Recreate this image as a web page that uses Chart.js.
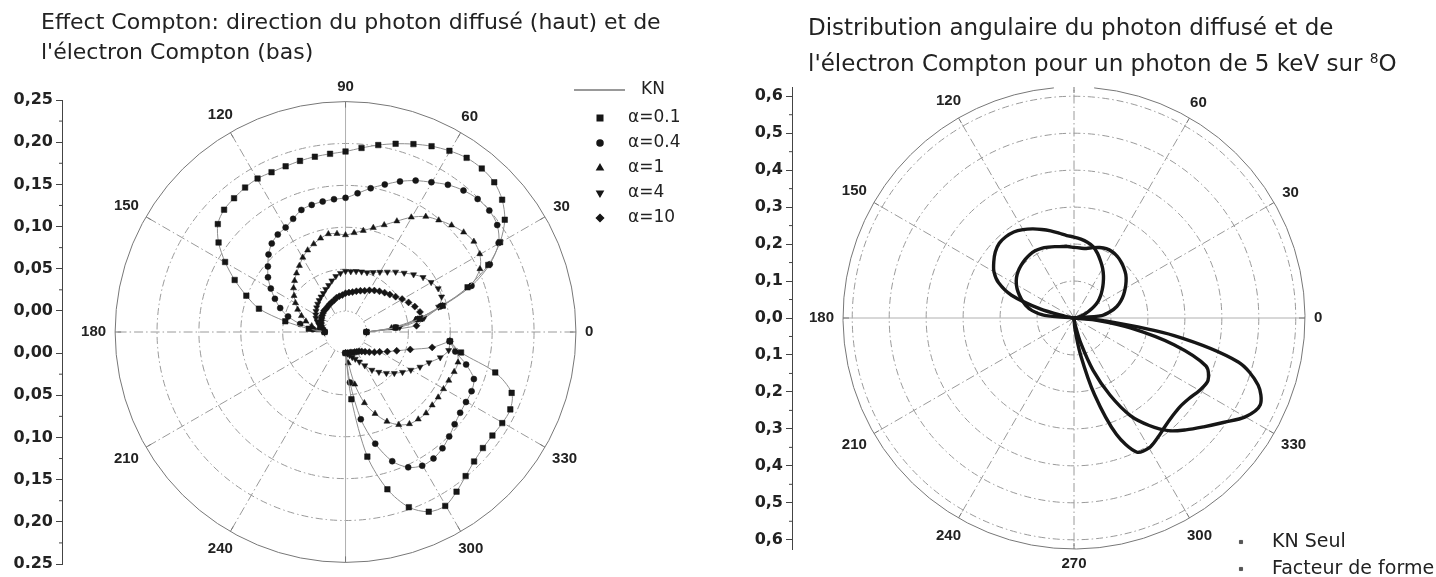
<!DOCTYPE html>
<html lang="fr">
<head>
<meta charset="UTF-8">
<title>Effet Compton - distributions angulaires</title>
<script src="https://cdn.jsdelivr.net/npm/chart.js"></script>
<style>
  body { margin: 0; background: #fff; }
  .panel { position: absolute; top: 0; height: 577px; }
  #leftPanel { left: 0; width: 716px; }
  #rightPanel { left: 716px; width: 720px; }
  .panel canvas { position: absolute; left: 0; top: 0; }
  .title { position: absolute; font-family: 'DejaVu Sans', sans-serif; color: #222; white-space: nowrap; }
  .title sup { font-size: 60%; line-height: 0; vertical-align: 0.55em; }
</style>
</head>
<body>

<div class="panel" id="leftPanel">
  <canvas id="leftChart" width="716" height="577"></canvas>
  <div class="title" style="left:41px; top:7px; font-size:22px; line-height:30px;">Effect Compton: direction du photon diffusé (haut) et de<br>l'électron Compton (bas)</div>
</div>
<div class="panel" id="rightPanel">
  <canvas id="rightChart" width="720" height="577"></canvas>
  <div class="title" style="left:92px; top:9px; font-size:23px; line-height:36px;">Distribution angulaire du photon diffusé et de<br>l'électron Compton pour un photon de 5 keV sur <sup>8</sup>O</div>
</div>

<script>
// ---------- data (angles in degrees, radii) ----------
const photonAngles = [0,5,10,15,20,25,30,35,40,45,50,55,60,65,70,75,80,85,90,95,100,105,110,115,120,125,130,135,140,145,150,155,160,165,170,175,180];
const electronAngles = [270,275,280,285,290,295,300,305,310,315,320,325,330,335,340,345,350,355];
const electronAnglesFull = [270,275,280,285,290,295,300,305,310,315,320,325,330,335,340,345,350,355,360];

const alphaLabels = ['α=0.1', 'α=0.4', 'α=1', 'α=4', 'α=10'];

// left plot: photon (upper half)
const photonA01 = [0,0.035,0.065,0.095,0.130,0.163,0.188,0.207,0.219,0.226,0.228,0.227,0.223,0.218,0.212,0.206,0.200,0.194,0.189,0.187,0.186,0.185,0.184,0.184,0.185,0.184,0.182,0.180,0.174,0.160,0.141,0.121,0.101,0.082,0.048,0.019,0];
const photonA04 = [0,0.035,0.062,0.092,0.135,0.165,0.186,0.196,0.199,0.198,0.194,0.188,0.180,0.173,0.165,0.156,0.148,0.140,0.134,0.133,0.132,0.131,0.129,0.123,0.118,0.116,0.112,0.105,0.096,0.088,0.078,0.068,0.058,0.046,0.030,0.014,0];
const photonA1  = [0,0.030,0.060,0.095,0.133,0.152,0.160,0.162,0.159,0.154,0.148,0.142,0.132,0.120,0.110,0.103,0.097,0.093,0.090,0.092,0.093,0.090,0.086,0.082,0.077,0.071,0.066,0.061,0.056,0.050,0.044,0.038,0.031,0.024,0.016,0.008,0];
const photonA4  = [0,0.040,0.070,0.090,0.097,0.097,0.093,0.088,0.081,0.074,0.068,0.062,0.057,0.053,0.050,0.049,0.048,0.047,0.047,0.045,0.042,0.038,0.034,0.031,0.028,0.026,0.024,0.022,0.020,0.018,0.016,0.014,0.011,0.008,0.005,0.002,0];
const photonA10 = [0,0.060,0.068,0.067,0.063,0.058,0.053,0.048,0.044,0.041,0.038,0.035,0.032,0.029,0.027,0.025,0.023,0.022,0.021,0.019,0.018,0.017,0.015,0.014,0.013,0.012,0.011,0.011,0.010,0.009,0.008,0.007,0.006,0.005,0.003,0.002,0];

// left plot: electron (lower half)
const electronA01 = [0,0.055,0.125,0.168,0.196,0.210,0.213,0.206,0.198,0.192,0.189,0.189,0.191,0.192,0.186,0.160,0.115,0.100];
const electronA04 = [0,0.035,0.080,0.112,0.138,0.152,0.158,0.158,0.155,0.150,0.145,0.142,0.141,0.141,0.138,0.124,0.108,0.100];
const electronA1  = [0,0.012,0.038,0.062,0.078,0.092,0.102,0.108,0.110,0.111,0.110,0.110,0.110,0.111,0.113,0.114,0.110,0.100];
const electronA4  = [0,0.001,0.003,0.006,0.009,0.014,0.021,0.030,0.037,0.044,0.051,0.058,0.065,0.073,0.081,0.092,0.100,0.100];
const electronA10 = [0,0,0,0,0.001,0.001,0.002,0.003,0.005,0.008,0.012,0.017,0.022,0.030,0.040,0.055,0.080,0.100];

// right plot
const photonKN = [0,0.075,0.100,0.120,0.135,0.148,0.160,0.172,0.183,0.191,0.198,0.204,0.207,0.207,0.203,0.197,0.191,0.190,0.191,0.194,0.196,0.200,0.204,0.208,0.210,0.209,0.206,0.202,0.197,0.190,0.180,0.167,0.152,0.136,0.115,0.080,0];
const photonFF = [0,0.004,0.010,0.019,0.030,0.045,0.063,0.080,0.094,0.108,0.123,0.139,0.155,0.170,0.186,0.200,0.208,0.214,0.219,0.224,0.233,0.244,0.255,0.266,0.276,0.284,0.287,0.286,0.278,0.265,0.250,0.225,0.180,0.095,0.024,0.006,0];
const electronKN = [0,0.030,0.100,0.215,0.335,0.400,0.406,0.395,0.383,0.376,0.374,0.380,0.392,0.400,0.380,0.280,0.155,0.055,0];
const electronFF = [0,0.005,0.020,0.070,0.150,0.230,0.305,0.355,0.398,0.428,0.458,0.493,0.535,0.556,0.530,0.460,0.275,0.080,0];
const rightLegend = ['KN Seul', 'Facteur de forme'];

// axes
const leftRingRadii = [0, 0.05, 0.10, 0.15, 0.20];
const leftTickRadii = [0.25, 0.20, 0.15, 0.10, 0.05, 0, 0, 0.05, 0.10, 0.15, 0.20, 0.25];
const leftTickSigns = [-1, -1, -1, -1, -1, -1, 1, 1, 1, 1, 1, 1];
const leftTickText = ['0.25', '0,20', '0,15', '0,10', '0,05', '0,00', '0,00', '0,05', '0,10', '0,15', '0,20', '0,25'];
const leftMinorRadii = [0.025, 0.075, 0.125, 0.175, 0.225];
const leftAngleLabels = [0, 30, 60, 90, 120, 150, 180, 210, 240, 300, 330];

const rightRingRadii = [0.1, 0.2, 0.3, 0.4, 0.5, 0.6];
const rightTickValues = [-0.6, -0.5, -0.4, -0.3, -0.2, -0.1, 0, 0.1, 0.2, 0.3, 0.4, 0.5, 0.6];
const rightTickText = ['0,6', '0,5', '0,4', '0,3', '0,2', '0,1', '0,0', '0,1', '0,2', '0,3', '0,4', '0,5', '0,6'];
const rightMinorValues = [-0.55, -0.45, -0.35, -0.25, -0.15, -0.05, 0.05, 0.15, 0.25, 0.35, 0.45, 0.55];
const rightAngleLabels = [0, 30, 60, 120, 150, 180, 210, 240, 270, 300, 330];

// ---------- layout constants ----------
const FONT = "'Liberation Sans', Arial, sans-serif";
const WIDE = "'DejaVu Sans', sans-serif";
const TEXT = '#222';
const GRID = '#9a9a9a';

const LEFT_OFFSET = 0.025;   // radial axis starts a little away from the pole
const LEFT_OUTER = 0.25;
const LEFT_R = LEFT_OFFSET + LEFT_OUTER;
const RIGHT_OUTER = 0.625;
const LEFT_AXIS = 62;
const RIGHT_AXIS = 76;

function xLimits(canvasW, axisW, padTop, padBottom, canvasH, centerPx, halfRange) {
    const pxPerUnit = (canvasH - padTop - padBottom) / (2 * halfRange);
    return { min: -(centerPx - axisW) / pxPerUnit, max: (canvasW - centerPx) / pxPerUnit };
}

function polarPoints(angles, radii, offset) {
    return angles.map((a, i) => {
        const t = a * Math.PI / 180;
        const rr = offset + radii[i];
        return { x: rr * Math.cos(t), y: rr * Math.sin(t) };
    });
}

// ---------- plugins ----------
const polarGrid = {
    id: 'polarGrid',
    beforeDatasetsDraw(chart, args, o) {
        const { ctx, chartArea, scales: { x, y } } = chart;
        const cx = x.getPixelForValue(0);
        const cy = y.getPixelForValue(0);
        const rad = v => x.getPixelForValue(v) - cx;
        const inner = rad(o.offset);
        const outer = rad(o.offset + o.outer);
        const d2r = Math.PI / 180;
        ctx.save();
        ctx.lineWidth = 1;

        ctx.strokeStyle = GRID;
        o.rings.forEach(r => {
            ctx.setLineDash(r === 0 && o.offset > 0 ? [1.5, 2.5] : [7, 3, 1.5, 3]);
            ctx.beginPath();
            ctx.arc(cx, cy, rad(o.offset + r), 0, Math.PI * 2);
            ctx.stroke();
        });

        for (let a = 0; a < 360; a += 30) {
            const t = a * d2r;
            const solid = o.solidSpokes.includes(a);
            ctx.setLineDash(solid ? [] : [9, 3, 1.5, 3]);
            ctx.strokeStyle = solid ? '#b0b0b0' : GRID;
            ctx.beginPath();
            ctx.moveTo(cx + inner * Math.cos(t), cy - inner * Math.sin(t));
            ctx.lineTo(cx + outer * Math.cos(t), cy - outer * Math.sin(t));
            ctx.stroke();
        }

        ctx.setLineDash([]);
        ctx.strokeStyle = '#777';
        ctx.beginPath();
        if (o.gap) {
            ctx.arc(cx, cy, outer, -(90 - o.gap) * d2r, (270 - o.gap) * d2r);
        } else {
            ctx.arc(cx, cy, outer, 0, Math.PI * 2);
        }
        ctx.stroke();

        for (let a = 0; a < 360; a += 30) {
            const t = a * d2r;
            ctx.beginPath();
            ctx.moveTo(cx + outer * Math.cos(t), cy - outer * Math.sin(t));
            ctx.lineTo(cx + (outer - 6) * Math.cos(t), cy - (outer - 6) * Math.sin(t));
            ctx.stroke();
        }

        // minor ticks on the radial axis drawn at the left
        ctx.strokeStyle = '#444';
        o.minor.forEach(v => {
            const py = y.getPixelForValue(v);
            ctx.beginPath();
            ctx.moveTo(chartArea.left - 3, py);
            ctx.lineTo(chartArea.left, py);
            ctx.stroke();
        });

        ctx.fillStyle = TEXT;
        ctx.font = 'bold 15px ' + FONT;
        ctx.textAlign = 'center';
        ctx.textBaseline = 'middle';
        o.labels.forEach(a => {
            const t = a * d2r;
            const txt = String(a);
            const w = ctx.measureText(txt).width;
            const d = outer + 9 + (w / 2) * Math.abs(Math.cos(t)) + 5.5 * Math.abs(Math.sin(t));
            ctx.fillText(txt, cx + d * Math.cos(t), cy - d * Math.sin(t));
        });
        ctx.restore();
    }
};

const markerLegend = {
    id: 'markerLegend',
    afterDraw(chart, args, o) {
        const { ctx } = chart;
        ctx.save();
        ctx.font = o.size + 'px ' + WIDE;
        ctx.textBaseline = 'middle';
        ctx.textAlign = 'left';
        o.items.forEach(it => {
            if (it.line) {
                ctx.strokeStyle = it.color;
                ctx.lineWidth = 1.5;
                ctx.beginPath();
                ctx.moveTo(it.line[0], it.y);
                ctx.lineTo(it.line[1], it.y);
                ctx.stroke();
            } else {
                ctx.fillStyle = it.color;
                ctx.strokeStyle = it.color;
                Chart.helpers.drawPoint(ctx, {
                    pointStyle: it.style, radius: it.radius, rotation: it.rotation || 0, borderWidth: 1
                }, it.mx, it.y);
            }
            ctx.fillStyle = TEXT;
            ctx.fillText(it.text, it.tx, it.y);
        });
        ctx.restore();
    }
};

// ---------- left chart ----------
const markerStyles = [
    { style: 'rect', radius: 3.9, rotation: 0 },
    { style: 'circle', radius: 3.0, rotation: 0 },
    { style: 'triangle', radius: 3.5, rotation: 0 },
    { style: 'triangle', radius: 3.5, rotation: 180 },
    { style: 'rectRot', radius: 3.5, rotation: 0 }
];
const photonSeries = [photonA01, photonA04, photonA1, photonA4, photonA10];
const electronSeries = [electronA01, electronA04, electronA1, electronA4, electronA10];

function alphaDataset(points, i) {
    const m = markerStyles[i];
    return {
        label: alphaLabels[i],
        data: points,
        showLine: true,
        tension: 0.3,
        borderColor: '#8e8e8e',
        borderWidth: 1,
        pointStyle: m.style,
        pointRadius: m.radius,
        pointRotation: m.rotation,
        pointBackgroundColor: '#161616',
        pointBorderColor: '#161616',
        pointBorderWidth: 0.5
    };
}

const leftDatasets = [];
photonSeries.forEach((s, i) => leftDatasets.push(alphaDataset(polarPoints(photonAngles, s, LEFT_OFFSET), i)));
electronSeries.forEach((s, i) => leftDatasets.push(alphaDataset(polarPoints(electronAngles, s, LEFT_OFFSET), i)));

const leftTickValues = leftTickRadii.map((r, i) => leftTickSigns[i] * (LEFT_OFFSET + r));
const leftMinor = leftMinorRadii.flatMap(r => [LEFT_OFFSET + r, -(LEFT_OFFSET + r)]);

const leftLegendItems = [{ line: [574, 625], y: 90, color: '#777', text: 'KN', tx: 641 }];
alphaLabels.forEach((lab, i) => leftLegendItems.push({
    style: markerStyles[i].style, radius: markerStyles[i].radius, rotation: markerStyles[i].rotation,
    color: '#161616', mx: 600, y: 118 + i * 25, text: lab, tx: 628
}));

const tickFont = { family: WIDE, size: 16, weight: 'bold' };

new Chart(document.getElementById('leftChart'), {
    type: 'scatter',
    data: { datasets: leftDatasets },
    options: {
        responsive: false,
        animation: false,
        devicePixelRatio: 1,
        layout: { padding: { top: 100, bottom: 13, left: 0, right: 0 } },
        plugins: {
            legend: { display: false },
            tooltip: { enabled: false },
            polarGrid: {
                offset: LEFT_OFFSET, outer: LEFT_OUTER, rings: leftRingRadii,
                solidSpokes: [90, 270], labels: leftAngleLabels, minor: leftMinor, gap: 0
            },
            markerLegend: { size: 17, items: leftLegendItems }
        },
        scales: {
            x: { type: 'linear', display: false, ...xLimits(716, LEFT_AXIS, 100, 13, 577, 347.5, LEFT_R) },
            y: {
                type: 'linear',
                min: -LEFT_R, max: LEFT_R,
                afterFit: s => { s.width = LEFT_AXIS; },
                afterBuildTicks: s => { s.ticks = leftTickValues.map(v => ({ value: v })); },
                ticks: {
                    autoSkip: false, padding: 3, color: TEXT, font: tickFont,
                    callback: (v, i) => leftTickText[i]
                },
                grid: { drawOnChartArea: false, tickLength: 6, color: '#444' },
                border: { display: true, color: '#444', width: 1 }
            }
        }
    },
    plugins: [polarGrid, markerLegend]
});

// ---------- right chart ----------
function thickDataset(label, points) {
    return {
        label: label, data: points, showLine: true, tension: 0.3,
        borderColor: '#161616', borderWidth: 3.4, pointRadius: 0
    };
}

const rightDatasets = [
    thickDataset(rightLegend[0], polarPoints(photonAngles, photonKN, 0)),
    thickDataset(rightLegend[1], polarPoints(photonAngles, photonFF, 0)),
    thickDataset(rightLegend[0], polarPoints(electronAnglesFull, electronKN, 0)),
    thickDataset(rightLegend[1], polarPoints(electronAnglesFull, electronFF, 0))
];

const rightLegendItems = rightLegend.map((lab, i) => ({
    style: 'rect', radius: 2.2, color: '#555', mx: 525, y: 542 + i * 27, text: lab, tx: 556
}));

new Chart(document.getElementById('rightChart'), {
    type: 'scatter',
    data: { datasets: rightDatasets },
    options: {
        responsive: false,
        animation: false,
        devicePixelRatio: 1,
        layout: { padding: { top: 87, bottom: 28, left: 0, right: 0 } },
        plugins: {
            legend: { display: false },
            tooltip: { enabled: false },
            polarGrid: {
                offset: 0, outer: RIGHT_OUTER, rings: rightRingRadii,
                solidSpokes: [0, 180], labels: rightAngleLabels, minor: rightMinorValues, gap: 5
            },
            markerLegend: { size: 19, items: rightLegendItems }
        },
        scales: {
            x: { type: 'linear', display: false, ...xLimits(720, RIGHT_AXIS, 87, 28, 577, 358, RIGHT_OUTER) },
            y: {
                type: 'linear',
                min: -RIGHT_OUTER, max: RIGHT_OUTER,
                afterFit: s => { s.width = RIGHT_AXIS; },
                afterBuildTicks: s => { s.ticks = rightTickValues.map(v => ({ value: v })); },
                ticks: {
                    autoSkip: false, padding: 3, color: TEXT, font: tickFont,
                    callback: (v, i) => rightTickText[i]
                },
                grid: { drawOnChartArea: false, tickLength: 6, color: '#444' },
                border: { display: true, color: '#444', width: 1 }
            }
        }
    },
    plugins: [polarGrid, markerLegend]
});
</script>
</body>
</html>
